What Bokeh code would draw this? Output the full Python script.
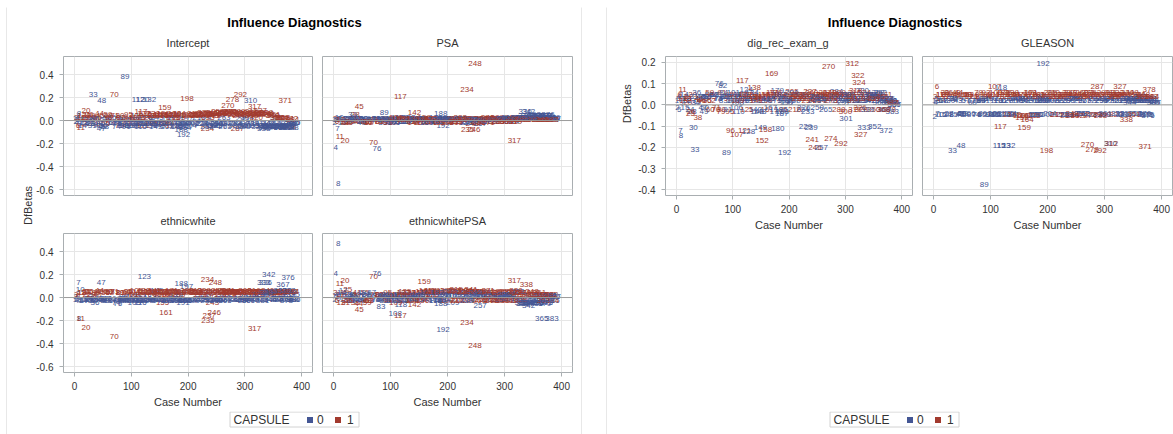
import math
from bokeh.plotting import figure
from bokeh.models import (ColumnDataSource, Range1d, FixedTicker, PrintfTickFormatter, Span)
from bokeh.layouts import row, column
from bokeh.embed import file_html
from bokeh.resources import INLINE
from bokeh.core.properties import value

# ---------------- data ----------------
case_no = [
    1, 2, 3, 4, 5, 6, 7, 8, 9, 10,
    11, 13, 15, 17, 20, 22, 25, 27, 30, 33,
    35, 38, 40, 43, 45, 47, 48, 52, 55, 58,
    63, 66, 70, 73, 76, 79, 82, 83, 86, 89,
    92, 96, 99, 102, 104, 107, 108, 110, 112, 115,
    117, 118, 120, 121, 123, 124, 126, 128, 130, 132,
    135, 138, 142, 145, 149, 150, 152, 155, 158, 159,
    161, 164, 165, 169, 172, 175, 179, 180, 183, 187,
    188, 192, 197, 198, 200, 205, 209, 215, 219, 222,
    226, 229, 232, 234, 235, 237, 239, 241, 243, 246,
    248, 251, 254, 257, 260, 263, 266, 270, 274, 278,
    281, 284, 287, 290, 292, 295, 298, 301, 304, 307,
    310, 312, 314, 317, 318, 320, 322, 324, 327, 330,
    333, 334, 336, 338, 342, 345, 348, 352, 355, 358,
    361, 365, 367, 371, 372, 376, 378, 380, 383, 385,
    12, 18, 24, 29, 34, 41, 50, 57, 62, 68,
    75, 80, 85, 94, 100, 106, 113, 127, 133, 140,
    147, 154, 162, 167, 173, 178, 185, 190, 195, 202,
    207, 212, 217, 224, 230, 236, 244, 250, 256, 262,
    268, 272, 276, 283, 288, 293, 297, 303, 309, 315,
    321, 326, 331, 337, 341, 344, 350, 354, 357, 360,
    364, 369, 374, 377, 381, 384, 386, 19, 46, 71,
    137, 170, 186, 221, 258, 286, 329, 363, 375, 387,
    14, 21, 28, 36, 44, 53, 60, 67, 74, 81,
    88, 95, 101, 109, 116, 125, 134, 141, 148, 156,
    163, 171, 177, 184, 191, 199, 204, 210, 216, 223,
    228, 233, 240, 245, 252, 259, 265, 271, 277, 282,
    289, 294, 300, 306, 311, 316, 323, 328, 335, 340,
    346, 351, 356, 362, 368, 373, 379, 382, 31, 49,
    59, 91, 105, 122, 143, 176, 194, 213, 249, 275,
    299, 319, 339, 366, 370, 26, 84, 139, 182, 264]

capsule = [
    0, 0, 1, 0, 0, 1, 0, 0, 0, 0,
    1, 1, 0, 0, 1, 1, 1, 0, 0, 0,
    0, 1, 1, 0, 1, 0, 0, 0, 1, 0,
    1, 0, 1, 0, 0, 1, 0, 0, 0, 0,
    1, 1, 0, 0, 1, 1, 0, 0, 0, 0,
    1, 0, 0, 1, 0, 0, 1, 0, 0, 0,
    1, 1, 1, 0, 0, 1, 1, 1, 1, 1,
    1, 1, 0, 1, 1, 0, 0, 0, 1, 0,
    0, 0, 0, 1, 0, 1, 0, 1, 0, 1,
    0, 0, 1, 1, 1, 1, 0, 1, 1, 1,
    1, 0, 1, 0, 1, 0, 1, 1, 1, 1,
    1, 0, 1, 1, 1, 0, 1, 0, 0, 1,
    0, 1, 0, 1, 1, 1, 1, 1, 1, 0,
    0, 1, 0, 1, 0, 0, 1, 0, 0, 0,
    1, 0, 0, 1, 0, 0, 1, 0, 0, 0,
    1, 0, 0, 1, 0, 1, 0, 0, 1, 0,
    0, 1, 0, 1, 0, 0, 1, 0, 1, 0,
    1, 0, 1, 0, 1, 0, 1, 0, 0, 1,
    0, 1, 1, 0, 1, 0, 1, 0, 1, 0,
    1, 0, 1, 0, 1, 1, 0, 1, 0, 1,
    0, 1, 0, 1, 0, 0, 1, 0, 1, 0,
    0, 0, 1, 0, 0, 1, 0, 1, 0, 1,
    0, 1, 0, 1, 0, 1, 0, 1, 0, 0,
    0, 1, 0, 0, 1, 0, 1, 0, 0, 1,
    0, 1, 0, 1, 0, 1, 0, 1, 0, 1,
    0, 1, 0, 1, 0, 1, 0, 1, 1, 0,
    1, 0, 1, 0, 1, 1, 0, 1, 1, 0,
    1, 0, 1, 0, 1, 1, 0, 1, 0, 1,
    0, 1, 0, 0, 1, 0, 0, 1, 0, 0,
    1, 0, 0, 1, 0, 1, 0, 1, 0, 1,
    0, 1, 0, 1, 0, 1, 0, 1, 0, 1]

dfb_intercept = [
    0.02, -0.01, 0.03, -0.02, 0.01, -0.04, 0.04, 0.06, -0.03, 0.02,
    -0.06, 0.04, -0.02, 0.01, 0.09, -0.03, 0.03, -0.02, 0.03, 0.23,
    0.02, -0.03, 0.03, -0.04, 0.04, -0.07, 0.17, 0.01, -0.03, 0.03,
    -0.02, 0.03, 0.23, -0.03, 0.02, -0.04, 0.03, -0.02, 0.01, 0.38,
    -0.03, 0.02, -0.04, 0.01, -0.03, 0.03, -0.02, 0.04, 0.18, -0.03,
    0.075, -0.03, 0.18, -0.04, 0.02, -0.02, 0.03, -0.03, 0.02, 0.18,
    -0.03, 0.04, -0.02, 0.03, -0.04, 0.05, -0.03, 0.04, -0.02, 0.11,
    0.04, -0.03, 0.02, 0.05, -0.04, 0.03, -0.02, 0.04, 0.03, -0.04,
    -0.08, -0.12, 0.02, 0.19, -0.03, 0.05, -0.02, 0.04, 0.03, 0.06,
    -0.03, 0.02, 0.05, -0.07, 0.03, 0.06, -0.04, 0.07, 0.04, 0.05,
    0.06, -0.03, 0.04, -0.04, 0.07, 0.03, 0.06, 0.13, 0.08, 0.18,
    0.05, -0.03, -0.07, 0.04, 0.23, 0.02, 0.06, -0.04, 0.03, 0.05,
    0.17, 0.04, -0.03, 0.12, 0.06, 0.03, 0.07, 0.05, 0.09, -0.04,
    -0.07, 0.06, -0.04, 0.07, -0.02, -0.05, 0.04, -0.03, 0.03, -0.04,
    0.02, -0.04, -0.02, 0.17, -0.06, -0.04, -0.05, -0.03, -0.06, -0.02,
    0.03, -0.02, 0.01, 0.04, -0.03, 0.02, -0.04, 0.02, 0.03, -0.02,
    -0.03, 0.04, -0.02, 0.03, -0.04, 0.01, 0.03, -0.03, 0.04, -0.02,
    0.04, -0.03, 0.05, -0.02, 0.03, -0.04, 0.05, -0.03, -0.02, 0.04,
    -0.02, 0.05, 0.04, -0.03, 0.06, -0.02, 0.05, -0.03, 0.06, -0.02,
    0.07, -0.03, 0.06, -0.02, 0.05, 0.07, -0.03, 0.06, -0.02, 0.05,
    -0.03, 0.06, -0.04, 0.05, -0.03, -0.05, 0.04, -0.04, 0.03, -0.05,
    -0.04, -0.05, 0.02, -0.04, -0.03, 0.01, -0.02, 0.03, -0.02, 0.04,
    -0.03, 0.04, -0.02, 0.05, -0.03, 0.06, -0.04, 0.02, -0.05, -0.02,
    -0.04, 0.05, -0.03, 0.02, 0.06, -0.05, 0.04, -0.02, -0.05, 0.03,
    -0.04, 0.05, -0.03, 0.04, -0.05, 0.06, -0.04, 0.05, -0.03, 0.06,
    -0.05, 0.05, -0.03, 0.06, -0.05, 0.04, -0.04, 0.06, 0.05, -0.03,
    0.07, -0.05, 0.06, -0.04, 0.08, 0.07, -0.05, 0.08, 0.07, -0.04,
    0.08, -0.05, 0.07, -0.04, 0.08, 0.06, -0.05, 0.07, -0.06, 0.06,
    -0.06, 0.05, -0.05, -0.06, 0.03, -0.05, -0.06, 0.02, -0.04, -0.05,
    0.05, -0.05, -0.04, 0.06, -0.05, 0.06, -0.06, 0.05, -0.04, 0.08,
    -0.05, 0.07, -0.05, 0.03, -0.06, 0.05, -0.04, 0.06, -0.05, 0.07]

dfb_psa = [
    0.01, -0.02, 0.02, -0.235, 0.01, -0.01, -0.07, -0.55, 0.02, 0.03,
    -0.14, 0.01, -0.02, 0.02, -0.17, 0.01, -0.01, 0.02, -0.01, 0.05,
    0.02, 0.05, -0.01, 0.02, 0.12, -0.01, 0.01, 0.02, -0.01, 0.01,
    -0.01, 0.02, -0.19, 0.01, -0.24, -0.01, 0.02, 0.01, -0.02, 0.07,
    0.01, -0.02, 0.02, -0.01, 0.01, -0.02, 0.02, 0.01, 0.03, -0.01,
    0.21, 0.02, 0.03, -0.01, 0.02, -0.01, 0.01, 0.02, -0.01, 0.03,
    0.01, -0.01, 0.07, 0.02, -0.01, 0.01, -0.02, 0.02, 0.01, 0.03,
    0.02, -0.01, 0.01, 0.02, -0.02, 0.01, 0.03, -0.01, 0.01, 0.02,
    0.065, -0.04, 0.02, 0.01, -0.02, 0.01, 0.02, -0.02, 0.01, 0.03,
    -0.01, 0.02, 0.01, 0.27, -0.08, 0.02, -0.02, 0.01, -0.03, -0.075,
    0.50, 0.01, -0.02, -0.03, 0.02, 0.01, -0.01, 0.03, 0.01, 0.02,
    -0.01, 0.02, 0.03, 0.01, 0.02, -0.01, 0.02, 0.01, -0.01, 0.02,
    0.02, 0.03, -0.01, -0.17, 0.02, 0.01, 0.03, 0.02, 0.02, 0.03,
    0.03, 0.02, 0.08, 0.03, 0.08, 0.04, 0.01, 0.05, 0.03, 0.04,
    0.02, 0.03, 0.04, 0.01, 0.03, 0.055, 0.02, 0.03, 0.01, 0.02,
    0.01, -0.01, 0.02, -0.01, 0.01, 0.02, -0.01, 0.01, -0.02, 0.01,
    0.02, -0.01, 0.01, 0.02, -0.01, 0.01, 0.02, -0.01, 0.01, 0.02,
    -0.01, 0.02, 0.01, -0.01, 0.02, 0.01, -0.02, 0.01, 0.02, -0.01,
    0.01, 0.02, -0.01, 0.01, 0.02, -0.01, 0.01, 0.02, -0.02, 0.01,
    0.02, -0.01, 0.01, 0.02, -0.01, 0.01, 0.02, -0.01, 0.02, 0.01,
    0.02, 0.01, 0.03, 0.01, 0.04, 0.03, 0.01, 0.04, 0.02, 0.03,
    0.03, 0.04, 0.01, 0.03, 0.02, 0.01, 0.03, -0.01, 0.02, 0.01,
    0.01, -0.01, 0.02, 0.01, -0.01, 0.02, 0.03, 0.01, 0.04, 0.02,
    0.02, -0.02, 0.01, 0.03, -0.01, 0.02, -0.02, 0.01, 0.02, -0.01,
    0.02, -0.02, 0.01, 0.03, -0.01, 0.02, 0.01, -0.02, 0.02, 0.01,
    -0.02, 0.02, 0.01, -0.01, 0.02, -0.02, 0.01, 0.02, -0.01, 0.02,
    0.01, -0.02, 0.02, 0.01, -0.01, 0.02, 0.01, -0.02, 0.02, 0.01,
    -0.01, 0.02, 0.01, 0.03, -0.01, 0.02, 0.03, 0.01, 0.04, 0.02,
    0.03, 0.01, 0.04, 0.03, 0.01, 0.04, 0.02, 0.01, 0.02, -0.02,
    -0.01, 0.02, -0.02, 0.01, 0.02, -0.01, 0.02, -0.01, 0.01, 0.02,
    0.02, -0.01, 0.03, 0.01, 0.04, -0.02, 0.01, 0.02, -0.01, 0.01]

dfb_ethnicwhite = [
    -0.02, 0.01, 0.03, -0.03, -0.01, 0.02, 0.13, -0.18, -0.02, 0.07,
    -0.18, 0.04, -0.02, -0.03, -0.26, 0.03, 0.05, -0.01, -0.02, 0.01,
    -0.02, 0.04, 0.03, -0.01, 0.05, 0.13, -0.02, -0.01, 0.04, -0.03,
    0.05, -0.01, -0.34, -0.02, -0.05, 0.04, -0.01, -0.02, 0.01, -0.02,
    0.04, 0.03, -0.02, 0.01, 0.05, 0.03, -0.01, -0.03, -0.02, 0.02,
    0.03, -0.03, -0.02, 0.04, 0.18, -0.01, 0.05, -0.03, -0.02, 0.01,
    0.04, 0.02, 0.05, 0.06, -0.02, 0.03, 0.05, -0.04, 0.02, 0.04,
    -0.13, 0.03, -0.02, 0.05, 0.04, -0.01, 0.02, -0.03, 0.03, 0.04,
    0.12, -0.02, 0.10, 0.04, -0.02, 0.05, -0.03, 0.04, -0.01, 0.03,
    -0.02, 0.01, 0.05, 0.16, -0.20, -0.16, 0.04, 0.03, -0.04, -0.13,
    0.13, -0.02, 0.04, -0.01, 0.03, 0.02, 0.05, 0.04, 0.03, 0.05,
    0.04, -0.01, 0.05, 0.03, 0.04, -0.02, 0.05, 0.01, -0.02, 0.04,
    0.02, 0.05, -0.01, -0.27, 0.03, 0.04, 0.05, 0.03, 0.04, -0.02,
    0.13, 0.04, 0.13, 0.05, 0.20, -0.02, 0.03, 0.05, -0.01, 0.03,
    0.04, 0.05, 0.115, 0.03, -0.01, 0.175, 0.04, 0.05, -0.02, 0.03,
    0.04, -0.02, -0.01, 0.03, -0.03, 0.05, -0.02, -0.01, 0.04, -0.03,
    -0.02, 0.04, -0.01, 0.05, -0.02, -0.03, 0.04, -0.02, 0.05, -0.01,
    0.05, -0.02, 0.04, -0.03, 0.05, -0.01, 0.04, -0.02, -0.03, 0.05,
    -0.02, 0.04, 0.05, -0.01, 0.04, -0.02, 0.05, -0.03, 0.04, -0.01,
    0.05, -0.02, 0.04, -0.01, 0.05, 0.04, -0.02, 0.05, -0.01, 0.04,
    -0.02, 0.05, -0.03, 0.04, 0.03, -0.02, 0.05, 0.04, 0.04, -0.01,
    0.05, -0.02, 0.04, 0.06, -0.01, 0.05, -0.02, 0.04, -0.02, 0.05,
    -0.02, 0.05, -0.03, 0.04, -0.02, 0.05, -0.01, 0.04, 0.03, -0.02,
    -0.03, 0.05, -0.02, -0.04, 0.06, -0.03, 0.05, -0.02, -0.04, 0.04,
    -0.03, 0.05, -0.02, 0.06, -0.04, 0.05, -0.02, 0.06, -0.03, 0.05,
    -0.03, 0.06, -0.02, 0.05, -0.04, 0.06, -0.03, 0.05, 0.04, -0.02,
    0.06, -0.03, 0.05, -0.02, 0.06, 0.05, -0.03, 0.06, 0.04, -0.02,
    0.05, -0.02, 0.06, -0.03, 0.05, 0.06, 0.03, 0.05, 0.04, 0.06,
    0.05, 0.04, -0.02, 0.06, 0.05, -0.03, 0.04, 0.05, -0.03, -0.02,
    0.05, -0.03, -0.04, 0.06, -0.02, 0.05, -0.03, 0.06, -0.02, 0.05,
    -0.03, 0.05, 0.04, 0.05, 0.06, 0.05, -0.03, 0.04, -0.02, 0.06]

dfb_ethnicwhitepsa = [
    0.02, -0.02, 0.04, 0.21, 0.01, -0.03, 0.03, 0.47, -0.01, 0.02,
    0.12, -0.04, 0.02, 0.06, 0.15, -0.03, 0.07, 0.01, -0.02, 0.03,
    0.02, -0.04, 0.03, -0.02, -0.10, 0.01, -0.03, 0.02, 0.04, -0.01,
    -0.03, 0.02, 0.18, -0.02, 0.21, 0.03, -0.01, -0.075, 0.02, -0.02,
    0.03, -0.02, 0.01, -0.03, 0.02, 0.03, -0.135, 0.01, -0.02, 0.02,
    -0.16, -0.06, 0.03, -0.03, 0.04, -0.02, 0.02, -0.03, 0.01, 0.02,
    0.03, -0.03, -0.06, 0.02, -0.01, 0.04, -0.02, 0.05, 0.03, 0.14,
    0.06, 0.04, -0.01, 0.05, 0.03, 0.02, -0.03, 0.04, 0.06, -0.02,
    -0.05, -0.28, 0.03, 0.06, 0.02, 0.05, -0.04, 0.07, 0.01, -0.03,
    0.04, 0.02, 0.06, -0.22, 0.05, -0.03, 0.03, 0.07, -0.02, 0.05,
    -0.42, 0.02, 0.04, -0.07, 0.05, 0.01, -0.02, 0.04, 0.03, -0.03,
    0.03, 0.01, 0.05, -0.02, 0.04, 0.02, -0.03, 0.03, 0.01, -0.02,
    0.04, 0.05, -0.01, 0.15, 0.03, 0.06, 0.02, -0.03, 0.04, -0.02,
    -0.05, 0.04, -0.03, 0.11, -0.07, -0.04, 0.05, -0.03, 0.02, -0.04,
    0.04, -0.18, -0.03, 0.02, -0.04, 0.01, 0.03, 0.02, -0.18, -0.03,
    0.03, -0.02, 0.02, -0.03, 0.01, 0.04, -0.02, 0.03, -0.03, 0.02,
    -0.02, 0.03, 0.01, -0.03, 0.02, -0.01, 0.03, -0.02, 0.04, 0.01,
    0.04, -0.02, 0.05, 0.01, 0.03, -0.03, 0.04, -0.02, 0.02, 0.05,
    0.02, 0.05, -0.03, 0.03, 0.04, -0.02, 0.05, 0.01, -0.03, 0.03,
    0.04, -0.02, 0.03, 0.01, -0.03, 0.04, 0.02, -0.02, 0.03, 0.04,
    -0.03, 0.04, -0.05, 0.03, -0.04, 0.02, 0.04, -0.03, 0.03, -0.02,
    -0.04, 0.01, 0.03, -0.02, 0.02, -0.03, 0.01, 0.04, -0.02, 0.03,
    0.02, 0.04, -0.03, 0.05, 0.02, -0.02, -0.04, 0.03, -0.03, 0.01,
    0.04, -0.04, 0.03, -0.02, -0.05, 0.02, -0.03, 0.04, -0.02, 0.03,
    -0.03, 0.04, 0.02, -0.04, 0.03, 0.05, -0.02, 0.04, 0.03, -0.03,
    0.04, 0.06, -0.02, 0.05, 0.03, -0.03, 0.05, 0.06, -0.02, 0.04,
    0.05, -0.03, 0.06, 0.03, 0.05, -0.02, 0.04, 0.06, -0.03, 0.02,
    0.04, -0.02, 0.05, 0.03, -0.03, 0.04, 0.05, -0.02, -0.04, 0.03,
    -0.04, 0.03, -0.05, 0.02, -0.03, -0.04, 0.02, 0.03, -0.03, 0.04,
    -0.04, 0.03, -0.03, 0.04, 0.02, 0.05, -0.02, 0.06, 0.04, -0.02,
    0.03, 0.05, -0.04, 0.03, -0.05, -0.03, 0.02, -0.02, 0.04, 0.05]

dfb_dig_rec_exam_g = [
    0.02, -0.01, 0.03, 0.04, -0.02, 0.05, -0.12, -0.146, 0.01, 0.03,
    0.074, 0.02, -0.01, 0.03, 0.01, 0.04, -0.041, 0.02, -0.108, -0.21,
    0.01, -0.06, 0.03, 0.04, 0.02, -0.01, 0.03, 0.04, 0.02, 0.05,
    0.04, 0.05, -0.02, 0.03, 0.10, -0.03, 0.09, 0.02, 0.04, -0.225,
    0.03, -0.12, 0.04, 0.02, 0.05, -0.14, 0.01, -0.03, 0.05, 0.03,
    0.116, 0.02, 0.04, -0.12, 0.03, 0.074, 0.05, -0.125, 0.03, 0.02,
    0.04, 0.08, 0.02, 0.03, -0.108, 0.04, -0.17, 0.03, -0.115, 0.02,
    -0.02, 0.04, 0.03, 0.148, 0.05, 0.02, 0.07, -0.11, 0.04, -0.04,
    -0.03, -0.225, 0.01, 0.03, 0.04, 0.065, 0.02, 0.05, 0.03, 0.04,
    -0.01, -0.10, 0.04, 0.02, 0.03, 0.065, -0.108, -0.165, 0.05, -0.20,
    0.03, 0.04, 0.02, -0.20, 0.05, 0.03, 0.04, 0.18, -0.16, 0.05,
    0.03, 0.065, 0.04, 0.05, -0.18, 0.02, 0.04, -0.063, 0.03, 0.05,
    0.03, 0.195, 0.02, -0.02, 0.066, 0.04, 0.14, 0.105, -0.14, 0.07,
    -0.105, 0.06, 0.03, 0.05, 0.02, 0.04, 0.05, -0.10, 0.03, 0.06,
    0.04, 0.02, -0.02, 0.05, -0.12, 0.03, -0.02, 0.02, -0.03, 0.01,
    0.04, 0.02, -0.02, 0.05, 0.01, 0.03, -0.01, 0.04, 0.02, 0.05,
    0.03, -0.02, 0.04, 0.05, 0.02, -0.01, 0.04, 0.03, 0.05, -0.02,
    0.04, 0.02, 0.05, -0.01, 0.03, 0.04, -0.02, 0.03, 0.01, 0.05,
    0.02, 0.04, 0.05, -0.02, 0.03, 0.04, 0.02, -0.01, 0.05, 0.03,
    0.04, 0.02, 0.05, 0.03, -0.02, 0.04, 0.01, 0.05, 0.03, 0.02,
    0.04, -0.01, 0.03, 0.05, 0.02, 0.04, -0.02, 0.05, 0.03, 0.01,
    0.02, -0.02, 0.03, 0.01, 0.02, 0.01, 0.00, 0.03, 0.04, -0.01,
    0.03, 0.05, -0.02, 0.04, 0.03, 0.05, 0.02, 0.04, 0.01, 0.00,
    0.05, 0.03, -0.03, 0.06, 0.02, 0.04, -0.02, 0.05, 0.03, 0.06,
    0.04, -0.03, 0.06, 0.02, 0.05, -0.02, 0.06, 0.03, -0.03, 0.05,
    0.03, 0.06, -0.03, 0.05, 0.02, 0.04, 0.06, -0.02, 0.03, 0.05,
    0.05, -0.03, 0.06, 0.02, 0.04, 0.05, -0.02, 0.06, 0.03, 0.04,
    0.06, 0.02, -0.03, 0.05, 0.04, 0.06, 0.02, -0.02, 0.05, 0.03,
    0.05, 0.03, 0.04, 0.06, -0.02, 0.03, 0.02, 0.01, 0.04, -0.03,
    0.06, -0.02, 0.04, 0.05, -0.03, 0.06, 0.03, 0.05, 0.04, 0.02,
    0.05, 0.03, -0.02, 0.04, 0.03, -0.03, 0.06, 0.04, 0.05, 0.06]

dfb_gleason = [
    0.02, -0.055, 0.04, 0.01, 0.03, 0.085, -0.04, 0.02, 0.03, -0.045,
    0.05, 0.03, -0.045, 0.02, 0.06, 0.04, 0.05, -0.04, 0.02, -0.214,
    -0.045, 0.05, 0.06, 0.02, 0.04, -0.04, -0.19, 0.03, 0.05, -0.045,
    0.05, -0.04, 0.04, 0.02, -0.045, 0.06, 0.03, 0.02, -0.04, -0.377,
    0.06, 0.04, -0.045, 0.03, 0.05, 0.085, -0.04, 0.02, -0.045, -0.19,
    -0.102, 0.08, 0.03, 0.05, -0.19, -0.045, 0.06, 0.02, -0.04, -0.19,
    0.05, 0.06, -0.045, 0.03, 0.02, -0.05, 0.04, -0.06, 0.05, -0.107,
    0.04, -0.07, 0.03, 0.06, -0.05, 0.02, 0.03, -0.045, 0.05, 0.02,
    0.04, 0.197, 0.03, -0.217, -0.045, 0.06, 0.02, -0.045, 0.03, 0.05,
    -0.045, 0.02, 0.05, -0.05, 0.04, 0.06, -0.045, 0.05, -0.04, 0.04,
    0.05, 0.03, -0.045, 0.02, 0.06, -0.04, 0.05, -0.185, -0.05, -0.21,
    0.05, 0.03, 0.085, -0.045, -0.215, 0.02, 0.06, -0.04, 0.03, 0.05,
    -0.18, -0.18, 0.03, 0.05, 0.04, -0.045, 0.06, 0.05, 0.085, -0.04,
    0.03, 0.05, -0.045, -0.068, 0.03, 0.02, 0.06, -0.04, 0.03, 0.02,
    0.05, 0.02, 0.03, -0.198, 0.02, -0.05, 0.072, 0.03, 0.02, 0.01,
    0.05, 0.02, -0.045, 0.04, 0.03, 0.05, -0.04, 0.02, 0.04, 0.01,
    0.02, 0.05, -0.045, 0.04, 0.03, -0.04, 0.05, 0.02, -0.045, 0.03,
    0.05, 0.02, -0.05, 0.03, 0.04, -0.045, 0.05, 0.02, 0.03, 0.04,
    0.02, 0.05, -0.045, 0.03, 0.04, 0.02, -0.05, 0.03, 0.05, -0.04,
    0.04, 0.02, 0.05, -0.045, 0.04, -0.05, 0.03, 0.05, 0.02, 0.04,
    0.02, 0.05, -0.045, 0.04, 0.03, 0.01, 0.05, -0.04, 0.04, 0.02,
    0.03, -0.045, 0.04, 0.02, 0.03, 0.04, 0.01, 0.05, -0.045, 0.04,
    -0.045, 0.05, 0.02, 0.04, -0.04, 0.05, 0.02, 0.04, -0.045, 0.01,
    0.02, 0.05, -0.045, 0.03, 0.06, -0.04, 0.05, 0.02, -0.045, 0.04,
    0.03, 0.05, -0.045, 0.06, 0.02, 0.04, -0.04, 0.05, 0.03, -0.05,
    0.02, 0.06, -0.045, 0.04, 0.03, 0.05, -0.04, 0.06, 0.04, 0.02,
    0.05, -0.045, 0.06, 0.03, -0.05, 0.04, 0.02, 0.06, -0.045, 0.03,
    0.05, 0.02, -0.045, 0.03, 0.06, 0.04, -0.04, 0.05, 0.02, 0.06,
    0.03, -0.045, 0.02, 0.04, 0.05, -0.045, 0.02, 0.04, 0.03, -0.04,
    0.05, 0.02, -0.045, 0.06, 0.03, -0.05, 0.02, 0.04, 0.03, 0.06,
    -0.045, 0.05, 0.03, 0.04, -0.04, 0.06, 0.02, 0.05, -0.045, 0.04]

x_ticks = [0, 100, 200, 300, 400]
y_ticks_left = [-0.6, -0.4, -0.2, 0.0, 0.2, 0.4]
y_ticks_right = [-0.4, -0.3, -0.2, -0.1, 0.0, 0.1, 0.2]
group_labels = ["0", "1"]

# ---------------- styles ----------------
FONT = "Liberation Sans"
BLUE, RED = "#445694", "#A23A2E"
FRAME, BORDER, GRID, ZERO, INK = "#A9AEB1", "#D2D2D2", "#E6E6E6", "#9A9A9A", "#333333"
X_RANGE = (-19.4, 419.0)
Y_LEFT = (-0.652, 0.557)
Y_RIGHT = (-0.427, 0.228)

point_labels = [str(c) for c in case_no]
point_colors = [BLUE if k == 0 else RED for k in capsule]


def blank(w, h, fill="white"):
    p = figure(width=w, height=h, x_range=Range1d(0, w), y_range=Range1d(0, h),
               x_axis_type=None, y_axis_type=None, toolbar_location=None,
               output_backend="svg", min_border=0, outline_line_color=None,
               background_fill_color=fill, border_fill_color=fill)
    return p


def add_text(p, x, y, txt, size, style="normal", angle=0.0, color=INK, align="center"):
    p.text(x=[x], y=[y], text=[txt], text_font=value(FONT), text_font_size=size,
           text_font_style=style, text_align=align, text_baseline="middle",
           text_color=color, angle=angle)


def style_axis(ax):
    ax.axis_line_color = None
    ax.major_tick_line_color = FRAME
    ax.major_tick_out = 4
    ax.major_tick_in = 0
    ax.minor_tick_line_color = None
    ax.major_label_text_font = FONT
    ax.major_label_text_font_size = "10px"
    ax.major_label_text_color = INK
    ax.axis_label_text_font = FONT
    ax.axis_label_text_font_size = "11px"
    ax.axis_label_text_font_style = "normal"
    ax.axis_label_text_color = INK


def dfbeta_panel(vals, w, h, mb, y_rng, y_ticks, show_x, show_y):
    l, r, t, b = mb
    p = figure(width=w, height=h, x_range=Range1d(*X_RANGE), y_range=Range1d(*y_rng),
               x_axis_location="below" if show_x else None,
               y_axis_location="left" if show_y else None,
               toolbar_location=None, output_backend="svg",
               min_border_left=l, min_border_right=r, min_border_top=t, min_border_bottom=b,
               outline_line_color=FRAME, outline_line_width=1,
               background_fill_color="white", border_fill_color="white")
    p.xgrid.ticker = FixedTicker(ticks=x_ticks)
    p.ygrid.ticker = FixedTicker(ticks=y_ticks)
    p.grid.grid_line_color = GRID
    p.grid.grid_line_width = 1
    if show_x:
        ax = p.xaxis[0]
        ax.ticker = FixedTicker(ticks=x_ticks)
        ax.axis_label = "Case Number"
        ax.major_label_standoff = 5
        ax.axis_label_standoff = 3
        style_axis(ax)
    if show_y:
        ay = p.yaxis[0]
        ay.ticker = FixedTicker(ticks=y_ticks)
        ay.formatter = PrintfTickFormatter(format="%.1f")
        ay.major_label_standoff = 6
        style_axis(ay)
    p.add_layout(Span(location=0, dimension="width", line_color=ZERO, line_width=1))
    src = ColumnDataSource(dict(case=case_no, dfbeta=vals, label=point_labels,
                                capsule_color=point_colors))
    p.text(x="case", y="dfbeta", text="label", text_color="capsule_color", source=src,
           text_font=value(FONT), text_font_size="8px", text_align="center",
           text_baseline="middle")
    return p


def legend_fig(w):
    # legend box: "CAPSULE  [■] 0  [■] 1"
    p = blank(w, 19)
    p.quad(left=[222.5], right=[351.5], bottom=[3.5], top=[18.5],
           fill_color="white", line_color=BORDER, line_width=1)
    add_text(p, 226, 11, "CAPSULE", "12px", align="left")
    p.rect(x=[302.5, 330.5], y=[10.5, 10.5], width=6, height=6,
           fill_color=[BLUE, RED], line_color=None)
    add_text(p, 309.5, 11, group_labels[0], "12px", align="left")
    add_text(p, 339.5, 11, group_labels[1], "12px", align="left")
    return p


# ---------------- left panel ----------------
title_L = blank(574, 24)
add_text(title_L, 287, 9, "Influence Diagnostics", "13px", "bold", color="black")
sub1_L = blank(574, 24)
add_text(sub1_L, 180.5, 12.5, "Intercept", "11px")
add_text(sub1_L, 440, 12.5, "PSA", "11px")
sub2_L = blank(548, 20)
add_text(sub2_L, 154.5, 12, "ethnicwhite", "11px")
add_text(sub2_L, 414, 12, "ethnicwhitePSA", "11px")
ylab_L = blank(26, 356)
add_text(ylab_L, 20, 206, "DfBetas", "11px", angle=math.pi / 2)

f_int = dfbeta_panel(dfb_intercept, 284, 157, (30, 5, 1, 17), Y_LEFT, y_ticks_left, False, True)
f_psa = dfbeta_panel(dfb_psa, 264, 157, (5, 9, 1, 17), Y_LEFT, y_ticks_left, False, False)
f_eth = dfbeta_panel(dfb_ethnicwhite, 284, 179, (30, 5, 1, 39), Y_LEFT, y_ticks_left, True, True)
f_ewp = dfbeta_panel(dfb_ethnicwhitepsa, 264, 179, (5, 9, 1, 39), Y_LEFT, y_ticks_left, True, False)

left_inner = column(title_L, sub1_L,
                    row(ylab_L, column(row(f_int, f_psa), sub2_L, row(f_eth, f_ewp))),
                    legend_fig(574), blank(574, 4))
left_panel = column(blank(576, 1, BORDER),
                    row(blank(1, 427, BORDER), left_inner, blank(1, 427, BORDER)))

# ---------------- right panel ----------------
title_R = blank(566, 24)
add_text(title_R, 287.5, 9, "Influence Diagnostics", "13px", "bold", color="black")
sub_R = blank(566, 24)
add_text(sub_R, 180.5, 12.5, "dig_rec_exam_g", "11px")
add_text(sub_R, 440, 12.5, "GLEASON", "11px")
ylab_R = blank(28, 181)
add_text(ylab_R, 19, 119.5, "DfBetas", "11px", angle=math.pi / 2)

f_dig = dfbeta_panel(dfb_dig_rec_exam_g, 282, 181, (28, 5, 1, 41), Y_RIGHT, y_ticks_right, True, True)
f_gle = dfbeta_panel(dfb_gleason, 256, 181, (5, 1, 1, 41), Y_RIGHT, y_ticks_right, True, False)

right_inner = column(title_R, sub_R, row(ylab_R, f_dig, f_gle), blank(566, 175),
                     legend_fig(566), blank(566, 4))
right_panel = column(blank(567, 1, BORDER), row(blank(1, 427, BORDER), right_inner))

root = column(blank(1173, 6),
              row(blank(6, 428), left_panel, blank(24, 428), right_panel))

open("out.html", "w").write(file_html(root, INLINE))
